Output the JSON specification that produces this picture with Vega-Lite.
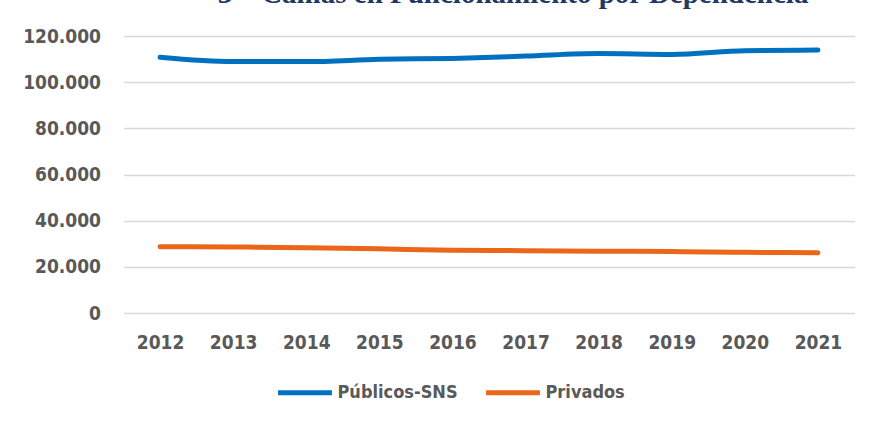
{
  "$schema": "https://vega.github.io/schema/vega-lite/v6.json",
  "autosize": "none",
  "width": 731,
  "height": 277,
  "padding": {"left": 123.5, "top": 36, "right": 17.5, "bottom": 112},
  "background": "white",
  "title": {
    "text": "3 – Camas en Funcionamiento por Dependencia",
    "font": "Liberation Serif",
    "fontSize": 29,
    "fontWeight": "bold",
    "color": "#1F3864",
    "anchor": "middle",
    "baseline": "alphabetic",
    "offset": 10,
    "dx": 24,
    "dy": 15
  },
  "data": {
    "values": [
      {"ano": "2012", "tipo": "Públicos-SNS", "camas": 110800},
      {"ano": "2013", "tipo": "Públicos-SNS", "camas": 108900},
      {"ano": "2014", "tipo": "Públicos-SNS", "camas": 108900},
      {"ano": "2015", "tipo": "Públicos-SNS", "camas": 109900},
      {"ano": "2016", "tipo": "Públicos-SNS", "camas": 110300},
      {"ano": "2017", "tipo": "Públicos-SNS", "camas": 111300},
      {"ano": "2018", "tipo": "Públicos-SNS", "camas": 112400},
      {"ano": "2019", "tipo": "Públicos-SNS", "camas": 112000},
      {"ano": "2020", "tipo": "Públicos-SNS", "camas": 113600},
      {"ano": "2021", "tipo": "Públicos-SNS", "camas": 113900},
      {"ano": "2012", "tipo": "Privados", "camas": 28700},
      {"ano": "2013", "tipo": "Privados", "camas": 28600},
      {"ano": "2014", "tipo": "Privados", "camas": 28300},
      {"ano": "2015", "tipo": "Privados", "camas": 27800},
      {"ano": "2016", "tipo": "Privados", "camas": 27200},
      {"ano": "2017", "tipo": "Privados", "camas": 27000},
      {"ano": "2018", "tipo": "Privados", "camas": 26800},
      {"ano": "2019", "tipo": "Privados", "camas": 26600},
      {"ano": "2020", "tipo": "Privados", "camas": 26300},
      {"ano": "2021", "tipo": "Privados", "camas": 26100}
    ]
  },
  "mark": {"type": "line", "strokeWidth": 5, "strokeCap": "round", "strokeJoin": "round", "interpolate": "monotone"},
  "encoding": {
    "x": {
      "field": "ano",
      "type": "ordinal",
      "scale": {"paddingInner": 0, "paddingOuter": 0.5},
      "axis": {
        "title": null,
        "labelAngle": 0,
        "domain": false,
        "ticks": false,
        "grid": false,
        "labelPadding": 20,
        "labelFont": "DejaVu Sans Condensed",
        "labelFontSize": 19,
        "labelFontWeight": "bold",
        "labelColor": "#595959"
      }
    },
    "y": {
      "field": "camas",
      "type": "quantitative",
      "scale": {"domain": [0, 120000], "nice": false},
      "axis": {
        "title": null,
        "values": [0, 20000, 40000, 60000, 80000, 100000, 120000],
        "format": ",d",
        "domain": false,
        "ticks": false,
        "grid": true,
        "gridColor": "#d9d9d9",
        "gridWidth": 1.5,
        "labelPadding": 23,
        "labelFont": "DejaVu Sans Condensed",
        "labelFontSize": 19,
        "labelFontWeight": "bold",
        "labelColor": "#595959"
      }
    },
    "color": {
      "field": "tipo",
      "type": "nominal",
      "scale": {"domain": ["Públicos-SNS", "Privados"], "range": ["#0070C0", "#EC6619"]},
      "legend": {
        "title": null,
        "orient": "none",
        "legendX": 152,
        "legendY": 327,
        "direction": "horizontal",
        "symbolType": "stroke",
        "symbolSize": 2900,
        "symbolStrokeWidth": 5,
        "labelFont": "DejaVu Sans Condensed",
        "labelFontSize": 18,
        "labelFontWeight": "bold",
        "labelColor": "#595959",
        "labelOffset": 3,
        "columnPadding": 17
      }
    }
  },
  "config": {
    "locale": {"number": {"decimal": ",", "thousands": ".", "grouping": [3], "currency": ["€", ""]}},
    "view": {"stroke": null}
  }
}
